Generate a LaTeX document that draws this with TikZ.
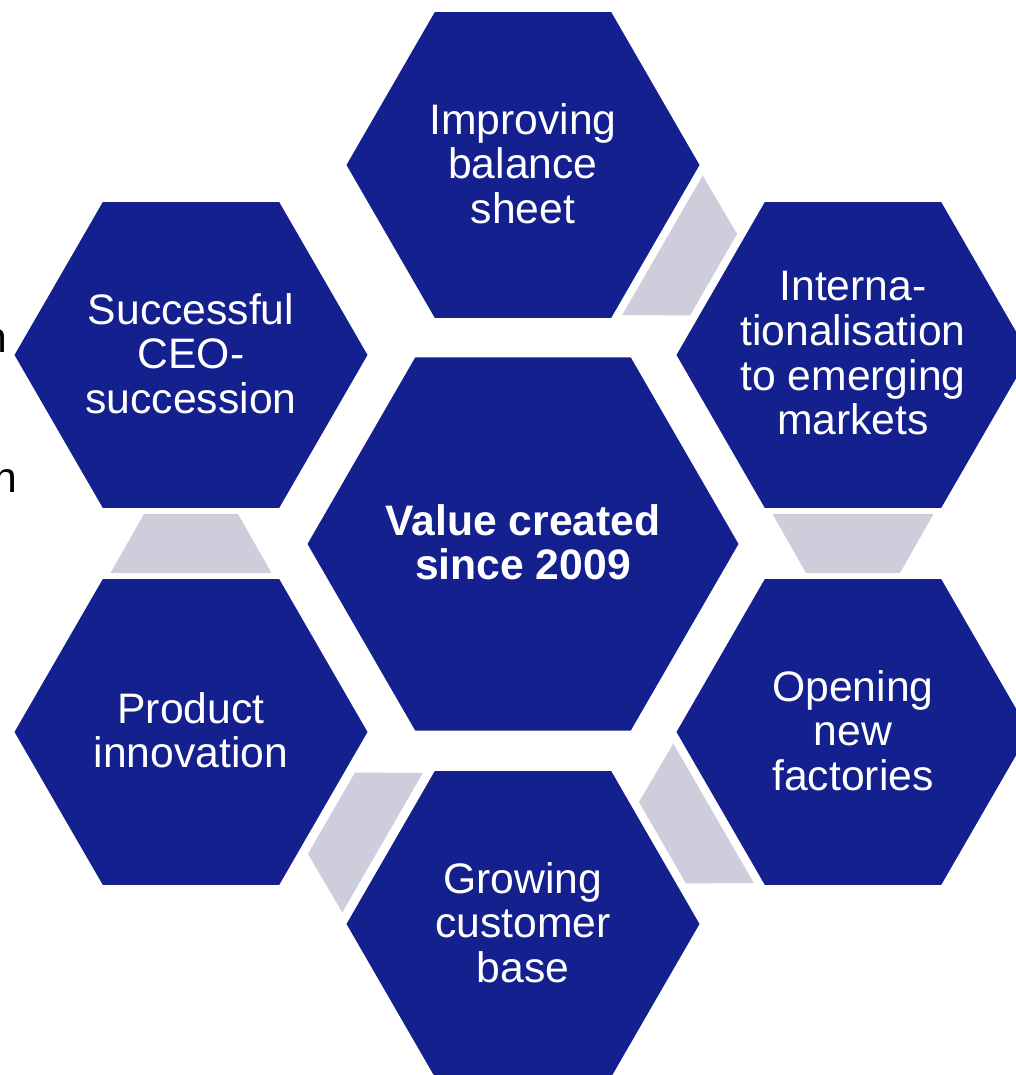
\documentclass[tikz,border=0pt]{standalone}
\usepackage{fontspec}
\setmainfont{Liberation Sans}
\usetikzlibrary{shapes.geometric,calc}

\definecolor{hexblue}{RGB}{19,32,142}
\definecolor{linkgray}{RGB}{205,205,220}

% equal-height strut so every text block is centred the same way
\newcommand\hexstrut{\rule[-0.22\baselineskip]{0pt}{1.04\baselineskip}}

\begin{document}
\begin{tikzpicture}[x=0.75pt,y=0.75pt,
  hexbox/.style={regular polygon, regular polygon sides=6, fill=hexblue,
    draw=none, inner sep=0pt, outer sep=0pt, minimum size=264.75pt},
  hubbox/.style={hexbox, minimum size=323.25pt},
  hextext/.style={text=white, align=center, inner sep=0pt, yshift=-2.25pt,
    font=\fontsize{32}{33.4}\selectfont,
    execute at begin node=\hexstrut, execute at end node=\hexstrut},
  hubtext/.style={hextext, font=\bfseries\fontsize{32}{33.4}\selectfont},
  link/.style={fill=linkgray, draw=none},
  sidetext/.style={text=black, inner sep=0pt, font=\fontsize{32}{33.4}\selectfont}
]
\useasboundingbox (0,0) rectangle (1016,1075);
\clip (0,0) rectangle (1016,1075);

% stray words of the neighbouring slide text
\node[sidetext, anchor=base east] (side1) at (7.9,722) {n};
\node[sidetext, anchor=base east] (side2) at (17.9,582) {n};

% hexagons
\node[hubbox] (hub) at (523,531) {};
\node[hexbox] (top) at (523,910) {};
\node[hexbox] (tr)  at (853,720) {};
\node[hexbox] (br)  at (853,343) {};
\node[hexbox] (bot) at (523,151) {};
\node[hexbox] (bl)  at (191,343) {};
\node[hexbox] (tl)  at (191,720) {};

% labels
\node[hubtext] (hub-t) at (hub.center) {Value created\\since 2009};
\node[hextext] (top-t) at (top.center) {Improving\\balance\\sheet};
\node[hextext] (tr-t)  at (tr.center)  {Interna-\\tionalisation\\to emerging\\markets};
\node[hextext] (br-t)  at (br.center)  {Opening\\new\\factories};
\node[hextext] (bot-t) at (bot.center) {Growing\\customer\\base};
\node[hextext] (bl-t)  at (bl.center)  {Product\\innovation};
\node[hextext] (tl-t)  at (tl.center)  {Successful\\CEO-\\succession};

% tapered links between neighbouring hexagons, wide end upstream
\def\linkshape{(-29.5,-80.5) -- (-29.5,80.5) -- (29.5,47) -- (29.5,-47) -- cycle}
\fill[link, shift={($(top)!0.5!(tr)$)}, rotate=-30] \linkshape;
\fill[link, shift={($(tr)!0.5!(br)$)}, rotate=-90] \linkshape;
\fill[link, shift={($(br)!0.5!(bot)$)}, rotate=-150] \linkshape;
\fill[link, shift={($(bot)!0.5!(bl)$)}, rotate=150] \linkshape;
\fill[link, shift={($(bl)!0.5!(tl)$)}, rotate=90] \linkshape;
\end{tikzpicture}
\end{document}
